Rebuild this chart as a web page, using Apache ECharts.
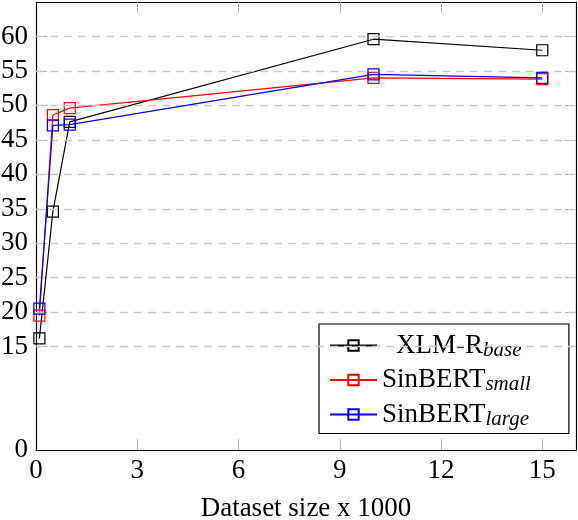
<!DOCTYPE html>
<html>
<head>
<meta charset="utf-8">
<script src="https://cdn.jsdelivr.net/npm/echarts@6/dist/echarts.min.js"></script>
<style>html,body{margin:0;padding:0;background:#fff}#c{width:578px;height:520px}</style>
</head>
<body>
<div id="c"></div>
<script>
// ---- data ----
const datasetSizes = [0.1, 0.5, 1, 10, 15];
const xlmrBase     = [16.2, 34.6, 47.6, 59.6, 58.0];
const sinbertSmall = [19.5, 48.6, 49.6, 54.0, 53.8];
const sinbertLarge = [20.5, 47.1, 47.2, 54.5, 54.0];
const seriesNames  = ['XLM-R', 'SinBERT', 'SinBERT '];
const seriesSubs   = ['base', 'small', 'large'];
const seriesColors = ['#000000', '#ff0000', '#0000ff'];
const xTickLabels  = [0, 3, 6, 9, 12, 15];
const yTickLabels  = [0, 15, 20, 25, 30, 35, 40, 45, 50, 55, 60];
const yGridValues  = [15, 20, 25, 30, 35, 40, 45, 50, 55, 60];

const FONT = 'Liberation Serif';
const seriesData = [xlmrBase, sinbertSmall, sinbertLarge];

const chart = echarts.init(document.getElementById('c'), null, {renderer: 'canvas'});

const tickStyle = {lineStyle: {color: '#b4b4b4', width: 1}};
function xAx(pos, showLabel) {
  return {
    type: 'value', position: pos, min: 0, max: 16,
    axisLine: {show: true, onZero: false, lineStyle: {color: '#000', width: 1.2}},
    axisTick: Object.assign({show: true, inside: true, length: 11, customValues: xTickLabels.filter(v => v > 0)}, tickStyle),
    axisLabel: {show: showLabel, customValues: xTickLabels, margin: 7, color: '#000', fontFamily: FONT, fontSize: 27},
    splitLine: {show: false},
    name: showLabel ? 'Dataset size x 1000' : '',
    nameLocation: 'middle', nameGap: 45,
    nameTextStyle: {color: '#000', fontFamily: FONT, fontSize: 27}
  };
}
function yAx(pos, showLabel) {
  return {
    type: 'value', position: pos, min: 0, max: 65,
    axisLine: {show: true, onZero: false, lineStyle: {color: '#000', width: 1.2}},
    axisTick: Object.assign({show: true, inside: true, length: 11, customValues: yGridValues}, tickStyle),
    axisLabel: {show: showLabel, customValues: yTickLabels, margin: 8, color: '#000', fontFamily: FONT, fontSize: 27},
    splitLine: {show: false}
  };
}

const series = [{
  type: 'line', name: '__grid', data: [], z: 1, silent: true, xAxisIndex: 0, yAxisIndex: 0,
  markLine: {
    silent: true, symbol: 'none', animation: false, label: {show: false},
    lineStyle: {color: '#c8c8c8', type: [8, 6], width: 1.3},
    data: yGridValues.map(v => ({yAxis: v}))
  }
}];
seriesNames.forEach((n, i) => {
  series.push({
    type: 'line', name: n, z: 3 + i,
    data: datasetSizes.map((x, j) => [x, seriesData[i][j]]),
    symbol: 'rect', symbolSize: 11,
    lineStyle: {color: seriesColors[i], width: 1.2},
    itemStyle: {color: 'rgba(0,0,0,0)', borderColor: seriesColors[i], borderWidth: 1.2},
    emphasis: {disabled: true}
  });
});

chart.setOption({
  animation: false,
  backgroundColor: '#fff',
  textStyle: {fontFamily: FONT},
  grid: {left: 36, right: 2, top: 2, bottom: 70, containLabel: false, outerBoundsMode: 'none'},
  xAxis: [xAx('bottom', true), xAx('top', false)],
  yAxis: [yAx('left', true), yAx('right', false)],
  legend: {
    data: seriesNames,
    orient: 'vertical', left: 319, top: 324,
    selectedMode: false,
    itemWidth: 47, itemHeight: 13, itemGap: 6,
    padding: [8, 38, 4, 10],
    borderColor: '#000', borderWidth: 1.2, backgroundColor: '#fff',
    formatter: function (name) {
      const i = seriesNames.indexOf(name);
      const lead = i === 0 ? '{p|}' : '';
      return lead + '{t|' + name.trim() + '}{s|' + seriesSubs[i] + '}';
    },
    textStyle: {
      fontFamily: FONT,
      rich: {
        p: {width: 14, fontSize: 27, lineHeight: 34},
        t: {fontFamily: FONT, fontSize: 27, color: '#000', lineHeight: 34},
        s: {fontFamily: FONT, fontSize: 21, fontStyle: 'italic', color: '#000', padding: [9, 0, 0, 0]}
      }
    }
  },
  series: series
});
</script>
</body>
</html>
